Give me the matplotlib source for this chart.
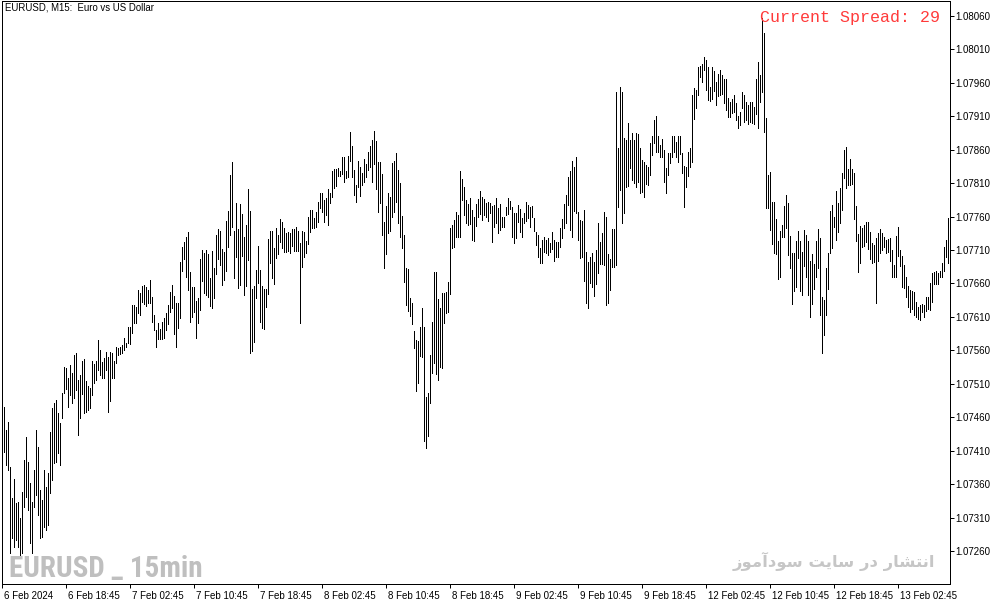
import numpy as np
import matplotlib
matplotlib.use("Agg")
import matplotlib.pyplot as plt
from matplotlib import font_manager
from matplotlib.transforms import ScaledTranslation

# EURUSD M15 bars (high / low of every bar, left to right)
highs = [
    1.07475, 1.07441, 1.07453, 1.07386, 1.07339, 1.07368, 1.07332, 1.07333, 1.07309, 1.07348,
    1.07396, 1.07430, 1.07393, 1.07362, 1.07333, 1.07381, 1.07441, 1.07415, 1.07351, 1.07336,
    1.07381, 1.07356, 1.07377, 1.07438, 1.07474, 1.07481, 1.07486, 1.07466, 1.07451, 1.07496,
    1.07535, 1.07534, 1.07519, 1.07538, 1.07526, 1.07553, 1.07556, 1.07516, 1.07523, 1.07544,
    1.07547, 1.07514, 1.07507, 1.07504, 1.07544, 1.07540, 1.07544, 1.07576, 1.07561, 1.07543,
    1.07549, 1.07558, 1.07550, 1.07558, 1.07556, 1.07544, 1.07565, 1.07564, 1.07565, 1.07568,
    1.07578, 1.07571, 1.07595, 1.07595, 1.07628, 1.07628, 1.07625, 1.07650, 1.07646, 1.07656,
    1.07658, 1.07655, 1.07650, 1.07665, 1.07640, 1.07613, 1.07590, 1.07601, 1.07592, 1.07602,
    1.07608, 1.07616, 1.07628, 1.07647, 1.07658, 1.07641, 1.07631, 1.07631, 1.07692, 1.07715,
    1.07722, 1.07730, 1.07737, 1.07677, 1.07655, 1.07655, 1.07634, 1.07638, 1.07697, 1.07710,
    1.07706, 1.07710, 1.07704, 1.07668, 1.07709, 1.07683, 1.07733, 1.07742, 1.07739, 1.07712,
    1.07707, 1.07753, 1.07768, 1.07822, 1.07842, 1.07739, 1.07780, 1.07742, 1.07779, 1.07764,
    1.07730, 1.07747, 1.07801, 1.07768, 1.07652, 1.07656, 1.07680, 1.07716, 1.07680, 1.07656,
    1.07652, 1.07652, 1.07726, 1.07739, 1.07739, 1.07713, 1.07743, 1.07733, 1.07756, 1.07752,
    1.07743, 1.07735, 1.07737, 1.07735, 1.07742, 1.07742, 1.07745, 1.07739, 1.07720, 1.07739,
    1.07737, 1.07723, 1.07759, 1.07770, 1.07770, 1.07758, 1.07767, 1.07782, 1.07795, 1.07795,
    1.07785, 1.07788, 1.07801, 1.07795, 1.07828, 1.07831, 1.07831, 1.07833, 1.07828, 1.07849,
    1.07849, 1.07828, 1.07851, 1.07887, 1.07866, 1.07830, 1.07807, 1.07843, 1.07834, 1.07825,
    1.07846, 1.07839, 1.07857, 1.07866, 1.07875, 1.07888, 1.07873, 1.07842, 1.07842, 1.07824,
    1.07752, 1.07776, 1.07795, 1.07789, 1.07840, 1.07843, 1.07855, 1.07830, 1.07810, 1.07761,
    1.07733, 1.07683, 1.07682, 1.07638, 1.07631, 1.07589, 1.07576, 1.07574, 1.07595, 1.07623,
    1.07595, 1.07490, 1.07496, 1.07553, 1.07602, 1.07677, 1.07677, 1.07637, 1.07623, 1.07646,
    1.07646, 1.07647, 1.07662, 1.07743, 1.07747, 1.07755, 1.07767, 1.07762, 1.07828, 1.07816,
    1.07804, 1.07785, 1.07779, 1.07788, 1.07770, 1.07759, 1.07779, 1.07786, 1.07798, 1.07789,
    1.07786, 1.07780, 1.07782, 1.07780, 1.07776, 1.07777, 1.07788, 1.07773, 1.07779, 1.07759,
    1.07759, 1.07774, 1.07788, 1.07783, 1.07774, 1.07765, 1.07765, 1.07777, 1.07771, 1.07758,
    1.07765, 1.07782, 1.07777, 1.07774, 1.07776, 1.07758, 1.07737, 1.07733, 1.07713, 1.07725,
    1.07730, 1.07725, 1.07728, 1.07720, 1.07737, 1.07725, 1.07722, 1.07722, 1.07743, 1.07756,
    1.07779, 1.07792, 1.07819, 1.07828, 1.07843, 1.07834, 1.07849, 1.07767, 1.07755, 1.07753,
    1.07770, 1.07707, 1.07692, 1.07700, 1.07706, 1.07692, 1.07710, 1.07750, 1.07722, 1.07735,
    1.07767, 1.07759, 1.07704, 1.07697, 1.07742, 1.07742, 1.07946, 1.07863, 1.07954, 1.07946,
    1.07878, 1.07875, 1.07900, 1.07875, 1.07885, 1.07875, 1.07885, 1.07884, 1.07863, 1.07845,
    1.07842, 1.07837, 1.07834, 1.07870, 1.07881, 1.07904, 1.07910, 1.07881, 1.07867, 1.07876,
    1.07860, 1.07833, 1.07855, 1.07855, 1.07880, 1.07881, 1.07872, 1.07880, 1.07880, 1.07855,
    1.07836, 1.07834, 1.07857, 1.07863, 1.07942, 1.07952, 1.07949, 1.07984, 1.07985, 1.07988,
    1.07999, 1.07994, 1.07984, 1.07954, 1.07984, 1.07978, 1.07961, 1.07973, 1.07979, 1.07972,
    1.07966, 1.07966, 1.07937, 1.07931, 1.07936, 1.07942, 1.07930, 1.07910, 1.07916, 1.07946,
    1.07942, 1.07931, 1.07927, 1.07931, 1.07931, 1.07924, 1.07966, 1.07991, 1.07972, 1.08057,
    1.08035, 1.07907, 1.07822, 1.07827, 1.07782, 1.07782, 1.07756, 1.07724, 1.07739, 1.07747,
    1.07776, 1.07792, 1.07780, 1.07731, 1.07706, 1.07706, 1.07723, 1.07739, 1.07723, 1.07707,
    1.07740, 1.07733, 1.07723, 1.07694, 1.07704, 1.07689, 1.07723, 1.07742, 1.07728, 1.07640,
    1.07635, 1.07683, 1.07706, 1.07768, 1.07777, 1.07759, 1.07798, 1.07780, 1.07803, 1.07825,
    1.07860, 1.07864, 1.07831, 1.07846, 1.07831, 1.07825, 1.07776, 1.07734, 1.07746, 1.07743,
    1.07747, 1.07752, 1.07752, 1.07737, 1.07720, 1.07717, 1.07728, 1.07735, 1.07742, 1.07735,
    1.07730, 1.07725, 1.07726, 1.07728, 1.07710, 1.07688, 1.07731, 1.07744, 1.07710, 1.07701,
    1.07688, 1.07670, 1.07656, 1.07650, 1.07649, 1.07647, 1.07632, 1.07625, 1.07628, 1.07629,
    1.07628, 1.07640, 1.07640, 1.07661, 1.07676, 1.07677, 1.07679, 1.07676, 1.07679, 1.07691,
    1.07715, 1.07725, 1.07758,
]
lows = [
    1.07408, 1.07389, 1.07381, 1.07257, 1.07279, 1.07266, 1.07276, 1.07266, 1.07254, 1.07257,
    1.07326, 1.07341, 1.07321, 1.07272, 1.07257, 1.07326, 1.07344, 1.07314, 1.07279, 1.07281,
    1.07296, 1.07291, 1.07299, 1.07347, 1.07366, 1.07392, 1.07393, 1.07407, 1.07389, 1.07459,
    1.07496, 1.07502, 1.07475, 1.07493, 1.07481, 1.07489, 1.07501, 1.07433, 1.07459, 1.07495,
    1.07466, 1.07468, 1.07471, 1.07474, 1.07493, 1.07511, 1.07516, 1.07531, 1.07523, 1.07519,
    1.07519, 1.07531, 1.07468, 1.07484, 1.07519, 1.07519, 1.07541, 1.07553, 1.07555, 1.07556,
    1.07561, 1.07565, 1.07571, 1.07570, 1.07586, 1.07601, 1.07601, 1.07616, 1.07613, 1.07632,
    1.07629, 1.07626, 1.07631, 1.07631, 1.07602, 1.07590, 1.07565, 1.07577, 1.07577, 1.07577,
    1.07578, 1.07590, 1.07599, 1.07617, 1.07623, 1.07584, 1.07565, 1.07593, 1.07608, 1.07679,
    1.07697, 1.07670, 1.07650, 1.07602, 1.07610, 1.07617, 1.07578, 1.07601, 1.07620, 1.07664,
    1.07646, 1.07643, 1.07640, 1.07626, 1.07623, 1.07638, 1.07674, 1.07697, 1.07688, 1.07658,
    1.07665, 1.07679, 1.07715, 1.07733, 1.07745, 1.07668, 1.07700, 1.07653, 1.07658, 1.07701,
    1.07643, 1.07656, 1.07695, 1.07556, 1.07559, 1.07572, 1.07638, 1.07661, 1.07602, 1.07593,
    1.07592, 1.07625, 1.07644, 1.07691, 1.07668, 1.07659, 1.07698, 1.07704, 1.07722, 1.07713,
    1.07707, 1.07707, 1.07709, 1.07706, 1.07716, 1.07709, 1.07709, 1.07709, 1.07601, 1.07685,
    1.07700, 1.07706, 1.07719, 1.07737, 1.07743, 1.07743, 1.07744, 1.07752, 1.07773, 1.07767,
    1.07752, 1.07762, 1.07747, 1.07780, 1.07789, 1.07803, 1.07806, 1.07821, 1.07821, 1.07824,
    1.07812, 1.07818, 1.07819, 1.07843, 1.07819, 1.07792, 1.07782, 1.07804, 1.07791, 1.07807,
    1.07812, 1.07819, 1.07830, 1.07834, 1.07812, 1.07839, 1.07801, 1.07767, 1.07780, 1.07733,
    1.07683, 1.07704, 1.07735, 1.07739, 1.07759, 1.07767, 1.07782, 1.07750, 1.07730, 1.07713,
    1.07662, 1.07628, 1.07619, 1.07611, 1.07599, 1.07563, 1.07499, 1.07511, 1.07551, 1.07550,
    1.07424, 1.07414, 1.07432, 1.07481, 1.07526, 1.07541, 1.07525, 1.07516, 1.07535, 1.07534,
    1.07601, 1.07616, 1.07617, 1.07644, 1.07713, 1.07714, 1.07730, 1.07730, 1.07730, 1.07785,
    1.07762, 1.07750, 1.07747, 1.07749, 1.07725, 1.07723, 1.07746, 1.07759, 1.07764, 1.07755,
    1.07762, 1.07759, 1.07753, 1.07765, 1.07722, 1.07744, 1.07750, 1.07735, 1.07740, 1.07744,
    1.07744, 1.07762, 1.07764, 1.07771, 1.07730, 1.07720, 1.07728, 1.07752, 1.07737, 1.07730,
    1.07750, 1.07753, 1.07758, 1.07744, 1.07759, 1.07739, 1.07717, 1.07700, 1.07691, 1.07691,
    1.07707, 1.07706, 1.07703, 1.07707, 1.07712, 1.07694, 1.07700, 1.07700, 1.07714, 1.07728,
    1.07743, 1.07750, 1.07777, 1.07740, 1.07730, 1.07768, 1.07765, 1.07725, 1.07698, 1.07700,
    1.07664, 1.07631, 1.07623, 1.07661, 1.07655, 1.07641, 1.07659, 1.07676, 1.07689, 1.07689,
    1.07688, 1.07628, 1.07631, 1.07650, 1.07685, 1.07685, 1.07688, 1.07774, 1.07800, 1.07750,
    1.07765, 1.07804, 1.07806, 1.07833, 1.07815, 1.07810, 1.07804, 1.07812, 1.07795, 1.07797,
    1.07789, 1.07809, 1.07807, 1.07822, 1.07852, 1.07870, 1.07857, 1.07857, 1.07849, 1.07849,
    1.07812, 1.07795, 1.07822, 1.07840, 1.07849, 1.07857, 1.07849, 1.07842, 1.07854, 1.07825,
    1.07774, 1.07804, 1.07821, 1.07834, 1.07842, 1.07906, 1.07922, 1.07942, 1.07969, 1.07961,
    1.07979, 1.07949, 1.07934, 1.07933, 1.07936, 1.07948, 1.07927, 1.07940, 1.07942, 1.07943,
    1.07930, 1.07919, 1.07909, 1.07909, 1.07915, 1.07916, 1.07904, 1.07892, 1.07897, 1.07922,
    1.07901, 1.07904, 1.07898, 1.07901, 1.07900, 1.07898, 1.07913, 1.07892, 1.07931, 1.07946,
    1.07887, 1.07773, 1.07773, 1.07740, 1.07719, 1.07706, 1.07704, 1.07667, 1.07670, 1.07730,
    1.07730, 1.07743, 1.07703, 1.07683, 1.07629, 1.07649, 1.07655, 1.07698, 1.07649, 1.07643,
    1.07686, 1.07670, 1.07643, 1.07610, 1.07629, 1.07652, 1.07670, 1.07683, 1.07613, 1.07556,
    1.07583, 1.07613, 1.07652, 1.07706, 1.07713, 1.07744, 1.07725, 1.07737, 1.07750, 1.07770,
    1.07818, 1.07803, 1.07807, 1.07807, 1.07809, 1.07756, 1.07723, 1.07677, 1.07691, 1.07714,
    1.07716, 1.07722, 1.07712, 1.07697, 1.07691, 1.07692, 1.07631, 1.07694, 1.07706, 1.07710,
    1.07714, 1.07706, 1.07707, 1.07694, 1.07670, 1.07670, 1.07670, 1.07701, 1.07686, 1.07655,
    1.07653, 1.07640, 1.07625, 1.07617, 1.07622, 1.07613, 1.07610, 1.07607, 1.07605, 1.07617,
    1.07610, 1.07619, 1.07622, 1.07620, 1.07632, 1.07659, 1.07659, 1.07659, 1.07670, 1.07670,
    1.07679, 1.07700, 1.07691,
]

time_labels = ["6 Feb 2024", "6 Feb 18:45", "7 Feb 02:45", "7 Feb 10:45", "7 Feb 18:45",
               "8 Feb 02:45", "8 Feb 10:45", "8 Feb 18:45", "9 Feb 02:45", "9 Feb 10:45",
               "9 Feb 18:45", "12 Feb 02:45", "12 Feb 10:45", "12 Feb 18:45", "13 Feb 02:45"]
bars_per_label = 32  # one label every 8 hours of M15 bars
price_ticks = np.round(np.arange(1.07260, 1.080601, 0.0005), 5)

title = "EURUSD, M15:  Euro vs US Dollar"
spread_text = "Current Spread: 29"
watermark = "EURUSD _ 15min"
watermark_fa = "انتشار در سایت سودآموز"

# --- minimal Persian shaping (matplotlib draws glyphs left to right, unjoined)
FORMS = {  # isolated, final, initial, medial
    "ا": ("\uFE8D", "\uFE8E", None, None),
    "آ": ("\uFE81", "\uFE82", None, None),
    "ن": ("\uFEE5", "\uFEE6", "\uFEE7", "\uFEE8"),
    "ت": ("\uFE95", "\uFE96", "\uFE97", "\uFE98"),
    "ش": ("\uFEB5", "\uFEB6", "\uFEB7", "\uFEB8"),
    "ر": ("\uFEAD", "\uFEAE", None, None),
    "د": ("\uFEA9", "\uFEAA", None, None),
    "س": ("\uFEB1", "\uFEB2", "\uFEB3", "\uFEB4"),
    "ی": ("\uFBFC", "\uFBFD", "\uFEF3", "\uFEF4"),
    "و": ("\uFEED", "\uFEEE", None, None),
    "م": ("\uFEE1", "\uFEE2", "\uFEE3", "\uFEE4"),
    "ز": ("\uFEAF", "\uFEB0", None, None),
}


def shape_rtl(text):
    out = []
    for i, ch in enumerate(text):
        if ch not in FORMS:
            out.append(ch)
            continue
        prev = text[i - 1] if i > 0 else " "
        nxt = text[i + 1] if i + 1 < len(text) else " "
        iso, fin, ini, med = FORMS[ch]
        jp = prev in FORMS and FORMS[prev][2] is not None
        jn = nxt in FORMS and ini is not None
        if jp and jn:
            out.append(med)
        elif jp:
            out.append(fin)
        elif jn:
            out.append(ini)
        else:
            out.append(iso)
    return "".join(reversed(out))


plt.rcParams["font.family"] = ["Liberation Sans", "DejaVu Sans"]

W, H = 1003, 605
fig = plt.figure(figsize=(W / 100, H / 100), dpi=100)
fig.patch.set_facecolor("white")
# plot frame in pixels: x 2.3..950, y 0.7..584 (from top)
ax = fig.add_axes([2.3 / W, (H - 584) / H, (950 - 2.3) / W, (584 - 0.7) / H])

n = min(len(highs), len(lows))
x = np.arange(n)
ax.vlines(x, lows[:n], highs[:n], colors="black", linewidth=0.72, antialiased=False)

ax.set_xlim(-1, 472.85)
ax.set_ylim(1.072106, 1.0808285)

for sp in ax.spines.values():
    sp.set_linewidth(0.72)
    sp.set_color("black")

ax.set_yticks(price_ticks)
ax.set_yticklabels([f"{v:.5f}" for v in price_ticks])
ax.yaxis.tick_right()
ax.tick_params(axis="y", direction="out", length=3, width=0.72, pad=1, labelsize=7)

xt = [-1 + bars_per_label * i for i in range(len(time_labels))]
ax.set_xticks(xt)
ax.set_xticklabels(time_labels, ha="left")
ax.tick_params(axis="x", direction="out", length=3, width=0.72, pad=2, labelsize=7)
shift = ScaledTranslation(1.5 / 100, 0, fig.dpi_scale_trans)
for lab in ax.get_xticklabels():
    lab.set_transform(lab.get_transform() + shift)

fig.text(5 / W, 1 - 8 / H, title, ha="left", va="center", fontsize=6.9, color="black")
fig.text(760 / W, 1 - 17.5 / H, spread_text, ha="left", va="center",
         family=["Liberation Mono", "DejaVu Sans Mono"], fontsize=12, color="#ff3a3a")

avail = {f.name for f in font_manager.fontManager.ttflist}
narrow = next((nm for nm in ["Liberation Sans Narrow", "DejaVu Sans Condensed",
                             "Roboto Condensed", "Open Sans Condensed"] if nm in avail), None)
if narrow:
    fig.text(9 / W, 1 - 577.5 / H, watermark, ha="left", va="baseline",
             family=[narrow], weight="bold", fontsize=21, color="#bfbfbf")
else:
    fig.text(9 / W, 1 - 577.5 / H, watermark, ha="left", va="baseline",
             family=["DejaVu Sans"], weight="bold", fontsize=14.5, color="#bfbfbf")

fig.text(935 / W, 1 - 561 / H, shape_rtl(watermark_fa), ha="right", va="center",
         family=["DejaVu Sans"], weight="bold", fontsize=11.8, color="#c6c6c6")

fig.savefig("out.png", dpi=100, facecolor="white")
